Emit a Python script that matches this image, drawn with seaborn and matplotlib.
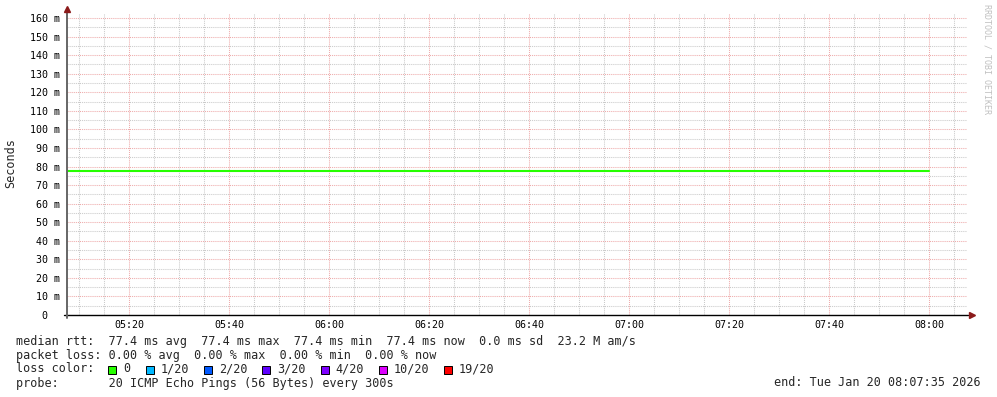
"""SmokePing-style RTT chart (rrdtool look) drawn with seaborn/matplotlib."""

import matplotlib

matplotlib.use("Agg")
import matplotlib.pyplot as plt
import pandas as pd
import seaborn as sns
from matplotlib.patches import Rectangle
from matplotlib.ticker import FixedLocator, MultipleLocator

# ---- data -------------------------------------------------------------
sample_times = [
    "05:05", "05:10", "05:15", "05:20", "05:25", "05:30", "05:35", "05:40",
    "05:45", "05:50", "05:55", "06:00", "06:05", "06:10", "06:15", "06:20",
    "06:25", "06:30", "06:35", "06:40", "06:45", "06:50", "06:55", "07:00",
    "07:05", "07:10", "07:15", "07:20", "07:25", "07:30", "07:35", "07:40",
    "07:45", "07:50", "07:55", "08:00",
]
median_rtt_ms = [
    77.4, 77.4, 77.4, 77.4, 77.4, 77.4, 77.4, 77.4,
    77.4, 77.4, 77.4, 77.4, 77.4, 77.4, 77.4, 77.4,
    77.4, 77.4, 77.4, 77.4, 77.4, 77.4, 77.4, 77.4,
    77.4, 77.4, 77.4, 77.4, 77.4, 77.4, 77.4, 77.4,
    77.4, 77.4, 77.4, 77.4,
]
window_start = "05:07:35"
window_end = "08:07:35"
x_tick_labels = ["05:20", "05:40", "06:00", "06:20", "06:40",
                 "07:00", "07:20", "07:40", "08:00"]
y_ticks = [0, 10, 20, 30, 40, 50, 60, 70, 80, 90, 100, 110, 120, 130, 140, 150, 160]
y_tick_labels = ["0  ", "10 m", "20 m", "30 m", "40 m", "50 m", "60 m", "70 m",
                 "80 m", "90 m", "100 m", "110 m", "120 m", "130 m", "140 m",
                 "150 m", "160 m"]

legend_rows = [
    "median rtt:  77.4 ms avg  77.4 ms max  77.4 ms min  77.4 ms now  0.0 ms sd  23.2 M am/s",
    "packet loss: 0.00 % avg  0.00 % max  0.00 % min  0.00 % now",
    "loss color:",
    "probe:       20 ICMP Echo Pings (56 Bytes) every 300s",
]
loss_labels = ["0", "1/20", "2/20", "3/20", "4/20", "10/20", "19/20"]
loss_colors = ["#26ff00", "#00b8ff", "#0059ff", "#5e00ff", "#7e00ff", "#dd00ff", "#ff0000"]
end_label = "end: Tue Jan 20 08:07:35 2026"


def to_minutes(stamp: str) -> float:
    parts = [float(p) for p in stamp.split(":")]
    mins = parts[0] * 60 + parts[1]
    if len(parts) > 2:
        mins += parts[2] / 60
    return mins


# ---- figure -----------------------------------------------------------
W, H = 997, 397
sns.set_style("white")
plt.rcParams["font.family"] = ["DejaVu Sans Mono", "DejaVu Sans"]

fig = plt.figure(figsize=(W / 100, H / 100), dpi=100)
fig.patch.set_facecolor("white")
# plot area: x 67..967 px, y 13..315 px
ax = fig.add_axes([67 / W, 1 - 315 / H, 900 / W, 302 / H])
ax.set_facecolor("white")

df = pd.DataFrame({"minute": [to_minutes(t) for t in sample_times],
                   "rtt": median_rtt_ms})
sns.lineplot(data=df, x="minute", y="rtt", color=loss_colors[0],
             linewidth=1.5, ax=ax, zorder=4)

ax.set_xlim(to_minutes(window_start), to_minutes(window_end))
ax.set_ylim(0, 162.7)

ax.xaxis.set_major_locator(FixedLocator([to_minutes(t) for t in x_tick_labels]))
ax.set_xticklabels(x_tick_labels)
ax.xaxis.set_minor_locator(MultipleLocator(5))
ax.yaxis.set_major_locator(FixedLocator(y_ticks))
ax.set_yticklabels(y_tick_labels)
ax.yaxis.set_minor_locator(MultipleLocator(5))

ax.tick_params(which="both", direction="out", length=2.2, width=0.7,
               color="#606060", labelsize=7.2, labelcolor="black")
ax.tick_params(axis="x", which="major", pad=1.5)
ax.tick_params(axis="y", which="major", pad=3)

dots = (0, (1, 1))
ax.grid(which="minor", color="#cacaca", linestyle=dots, linewidth=0.75)
ax.grid(which="major", color="#eeaaaa", linestyle=dots, linewidth=0.75)
ax.set_axisbelow(True)
ax.set_xlabel("")
ax.set_ylabel("")
for spine in ax.spines.values():
    spine.set_visible(False)

# axis lines with rrdtool arrows
ax.plot([-3 / 900, 1 + 1 / 900], [0, 0], transform=ax.transAxes,
        color="black", lw=1.0, clip_on=False, zorder=5)
ax.plot([0, 0], [-3 / 302, 1 + 1 / 302], transform=ax.transAxes,
        color="#666666", lw=1.4, clip_on=False, zorder=5)
ax.plot([1 + 5 / 900], [0], marker=">", ms=4.5, color="#8b1a1a",
        transform=ax.transAxes, clip_on=False, zorder=6)
ax.plot([0], [1 + 4 / 302], marker="^", ms=4.5, color="#8b1a1a",
        transform=ax.transAxes, clip_on=False, zorder=6)

# ---- surrounding text -------------------------------------------------
fs = 8.5
fig.text(11 / W, 1 - 163 / H, "Seconds", rotation=90, ha="center",
         va="center", fontsize=fs)
fig.text(987 / W, 1 - 4 / H, "RRDTOOL / TOBI OETIKER", rotation=270,
         ha="center", va="top", fontsize=6, color="#c0c0c0")

row_y = [341, 355, 369, 383]
for text, y in zip(legend_rows, row_y):
    fig.text(16 / W, 1 - y / H, text, ha="left", va="center", fontsize=fs)

sq_x = 108.3
for label, color in zip(loss_labels, loss_colors):
    fig.patches.append(Rectangle((sq_x / W, 1 - 374 / H), 8 / W, 8 / H,
                                 transform=fig.transFigure, facecolor=color,
                                 edgecolor="black", linewidth=0.7))
    text_x = sq_x + 15
    fig.text(text_x / W, 1 - 369 / H, label, ha="left", va="center", fontsize=fs)
    sq_x = text_x + 7 * len(label) + 15.3

fig.text(981 / W, 1 - 383 / H, end_label, ha="right", va="center", fontsize=fs)

fig.savefig("out.png", dpi=100, facecolor="white")
